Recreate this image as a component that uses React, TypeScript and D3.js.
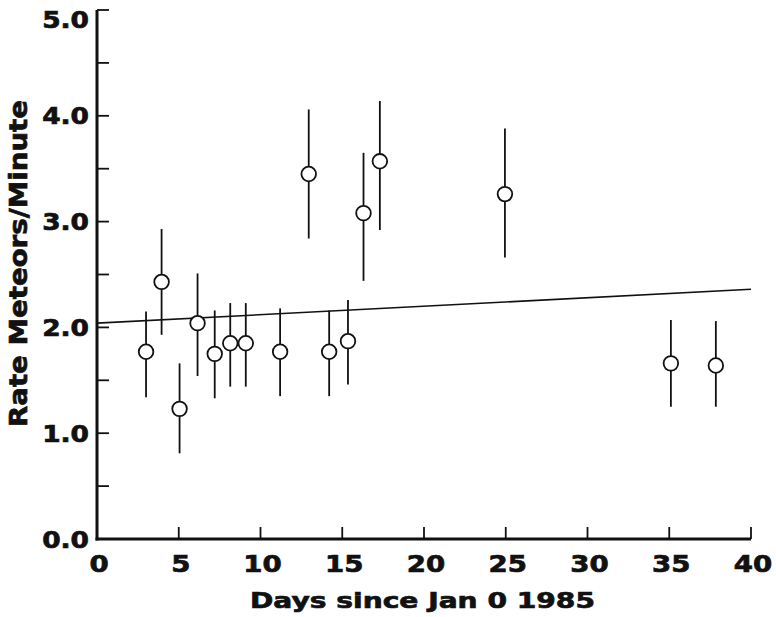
import * as d3 from 'd3'

// observation day (days since Jan 0 1985)
const days = [3.0, 3.95, 5.05, 6.15, 7.2, 8.15, 9.1, 11.2, 12.95, 14.2, 15.35, 16.3, 17.3, 24.95, 35.1, 37.85]
// meteor rate and error bar ends
const rates = [1.77, 2.43, 1.23, 2.04, 1.75, 1.85, 1.85, 1.77, 3.45, 1.77, 1.87, 3.08, 3.57, 3.26, 1.66, 1.64]
const upper = [2.15, 2.93, 1.66, 2.51, 2.16, 2.23, 2.23, 2.18, 4.06, 2.16, 2.26, 3.65, 4.14, 3.88, 2.07, 2.06]
const lower = [1.34, 1.93, 0.81, 1.54, 1.33, 1.44, 1.44, 1.35, 2.84, 1.35, 1.46, 2.44, 2.92, 2.66, 1.25, 1.25]

// fitted line end points
const trendDays = [0, 40]
const trendRates = [2.04, 2.36]

const xTicks = [0, 5, 10, 15, 20, 25, 30, 35, 40]
const yTicks = [0, 1, 2, 3, 4, 5]
const yMinorTicks = [0.5, 1.5, 2.5, 3.5, 4.5]

const FONT = '"DejaVu Sans", Arial, sans-serif'
const INK = '#111'

export default function App() {
  const width = 776
  const height = 617

  const x = d3.scaleLinear().domain([0, 40]).range([97, 751])
  const y = d3.scaleLinear().domain([0, 5]).range([539, 10])

  const trendLine = d3
    .line<number>()
    .x((d) => x(d))
    .y((_, i) => y(trendRates[i]))

  const pts = days.map((d, i) => ({ d, r: rates[i], hi: upper[i], lo: lower[i] }))

  // heavy lettering like the original figure
  const heavy = { fontWeight: 900, fill: INK, stroke: INK, strokeWidth: 0.7 }

  return (
    <svg
      width={width}
      height={height}
      style={{ position: 'absolute', left: 0, top: 0, background: '#fff' }}
      fontFamily={FONT}
    >
      {/* trend line */}
      <path d={trendLine(trendDays) || ''} fill="none" stroke={INK} strokeWidth={1.6} />

      {/* error bars + points */}
      {pts.map((p, i) => (
        <g key={i}>
          <line x1={x(p.d)} x2={x(p.d)} y1={y(p.hi)} y2={y(p.lo)} stroke={INK} strokeWidth={1.8} />
          <circle cx={x(p.d)} cy={y(p.r)} r={7.3} fill="#fff" stroke={INK} strokeWidth={1.8} />
        </g>
      ))}

      {/* y axis */}
      <line x1={x(0)} x2={x(0)} y1={y(0) + 1.5} y2={y(5)} stroke={INK} strokeWidth={3} />
      {yTicks.concat(yMinorTicks).map((t) => (
        <line key={'yt' + t} x1={x(0)} x2={x(0) + 12} y1={y(t)} y2={y(t)} stroke={INK} strokeWidth={1.8} />
      ))}
      {yTicks.map((t) => (
        <text
          key={'yl' + t}
          transform={`translate(89, ${t === 5 ? 28 : y(t) + 8.5}) scale(1.15, 1)`}
          textAnchor="end"
          fontSize={23}
          {...heavy}
        >
          {t.toFixed(1)}
        </text>
      ))}

      {/* x axis */}
      <line x1={x(0) - 1.5} x2={x(40)} y1={y(0)} y2={y(0)} stroke={INK} strokeWidth={3} />
      {xTicks.slice(1).map((t) => (
        <line key={'xt' + t} x1={x(t)} x2={x(t)} y1={y(0)} y2={y(0) - 12} stroke={INK} strokeWidth={1.8} />
      ))}
      {xTicks.map((t) => (
        <text
          key={'xl' + t}
          transform={`translate(${x(t) + 2}, 572) scale(1.2, 1)`}
          textAnchor="middle"
          fontSize={23}
          {...heavy}
        >
          {t}
        </text>
      ))}

      {/* axis titles */}
      <text
        x={250}
        y={608}
        fontSize={22}
        textLength={345}
        lengthAdjust="spacingAndGlyphs"
        {...heavy}
      >
        Days since Jan 0 1985
      </text>
      <text
        transform="translate(27, 427) rotate(-90)"
        fontSize={25}
        textLength={327}
        lengthAdjust="spacingAndGlyphs"
        {...heavy}
      >
        Rate Meteors/Minute
      </text>
    </svg>
  )
}
